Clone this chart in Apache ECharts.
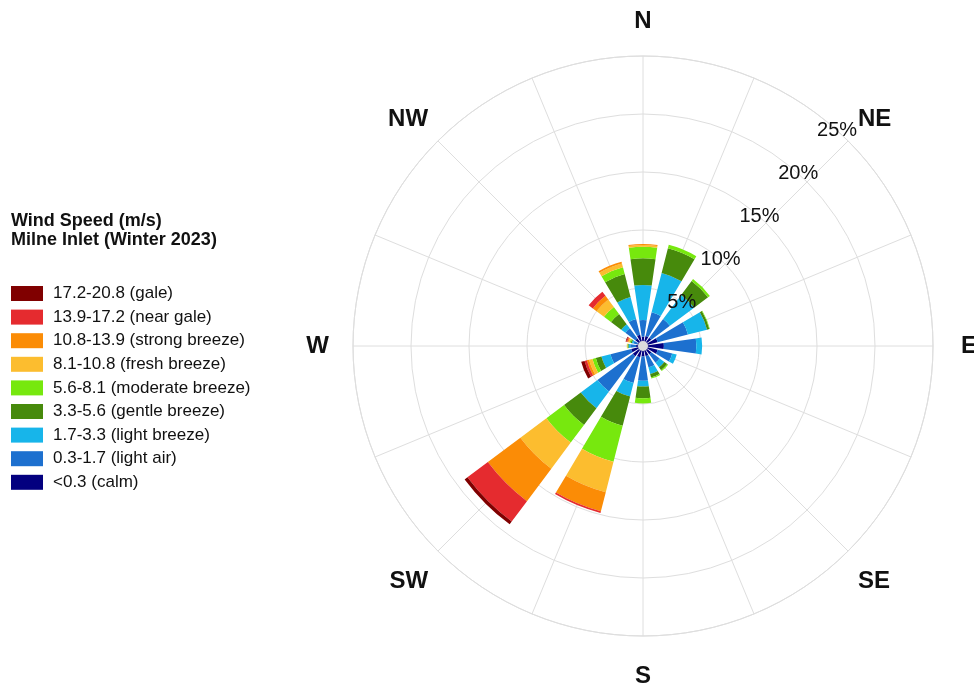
<!DOCTYPE html>
<html>
<head>
<meta charset="utf-8">
<title>Wind Rose - Milne Inlet (Winter 2023)</title>
<script src="https://cdn.jsdelivr.net/npm/echarts@6/dist/echarts.min.js"></script>
<style>
  html, body { margin: 0; padding: 0; background: #ffffff; }
  #chart { width: 974px; height: 686px; }
</style>
</head>
<body>
<div id="chart"></div>
<script>
// Direction sectors, clockwise from north
const directions = ['N', 'NNE', 'NE', 'ENE', 'E', 'ESE', 'SE', 'SSE', 'S', 'SSW', 'SW', 'WSW', 'W', 'WNW', 'NW', 'NNW'];

// Speed classes, innermost (calm) first
const speedBins = [
  '<0.3 (calm)',
  '0.3-1.7 (light air)',
  '1.7-3.3 (light breeze)',
  '3.3-5.6 (gentle breeze)',
  '5.6-8.1 (moderate breeze)',
  '8.1-10.8 (fresh breeze)',
  '10.8-13.9 (strong breeze)',
  '13.9-17.2 (near gale)',
  '17.2-20.8 (gale)'
];

// Frequency (% of hours) per direction for each speed class
const calm          = [0.80, 0.90, 0.90, 1.30, 1.80, 1.30, 0.90, 0.90, 0.90, 1.00, 1.10, 1.05, 0.60, 0.50, 0.80, 1.00];
const lightAir      = [1.44, 2.10, 2.00, 2.70, 2.80, 1.30, 0.90, 1.00, 2.10, 2.30, 3.80, 1.85, 0.50, 0.35, 1.10, 1.40];
const lightBreeze   = [3.02, 3.50, 2.60, 1.70, 0.50, 0.40, 0.50, 0.60, 0.50, 1.20, 1.80, 0.80, 0.15, 0.15, 0.45, 1.95];
const gentleBreeze  = [2.30, 2.20, 1.50, 0.20, 0.00, 0.00, 0.30, 0.30, 1.00, 2.60, 1.80, 0.50, 0.05, 0.10, 1.10, 2.05];
const moderateBreeze= [1.00, 0.30, 0.20, 0.05, 0.00, 0.00, 0.10, 0.10, 0.45, 3.20, 1.90, 0.30, 0.05, 0.10, 0.75, 0.60];
const freshBreeze   = [0.15, 0.00, 0.00, 0.00, 0.00, 0.00, 0.00, 0.00, 0.00, 2.70, 2.80, 0.30, 0.05, 0.10, 0.80, 0.35];
const strongBreeze  = [0.08, 0.00, 0.00, 0.00, 0.00, 0.00, 0.00, 0.00, 0.00, 1.70, 3.50, 0.20, 0.00, 0.10, 0.40, 0.15];
const nearGale      = [0.00, 0.00, 0.00, 0.00, 0.00, 0.00, 0.00, 0.00, 0.00, 0.15, 2.20, 0.20, 0.00, 0.10, 0.45, 0.00];
const gale          = [0.00, 0.00, 0.00, 0.00, 0.00, 0.00, 0.00, 0.00, 0.00, 0.00, 0.30, 0.30, 0.00, 0.05, 0.00, 0.00];

// Radial ticks (percent)
const ringTicks = [5, 10, 15, 20, 25];

const binValues = [calm, lightAir, lightBreeze, gentleBreeze, moderateBreeze, freshBreeze, strongBreeze, nearGale, gale];
const binColors = ['#03007f', '#1d70cf', '#17b5ea', '#478a0c', '#77e80e', '#fcbd2f', '#fb8c06', '#e52b2f', '#800000'];

const FONT = '"Liberation Sans", Arial, Helvetica, sans-serif';
const CX = 643, CY = 346, R = 290;
const GRID = '#dedede';

// Extra push outward for some compass labels
const labelPad = {
  N: [0, 0, 9, 0],
  S: [14, 0, 0, 0],
  E: [0, 0, 0, 14],
  W: [0, 10, 0, 0],
  SE: [8, 0, 0, 0],
  SW: [8, 0, 0, 0]
};
const angleData = directions.map(d => labelPad[d] ? { value: d, textStyle: { padding: labelPad[d] } } : d);

const chart = echarts.init(document.getElementById('chart'), null, { renderer: 'canvas' });

const series = speedBins.map((name, i) => ({
  type: 'bar',
  name: name,
  coordinateSystem: 'polar',
  polarIndex: 0,
  stack: 'speed',
  barWidth: '73%',
  data: binValues[i],
  itemStyle: { color: binColors[i] },
  emphasis: { disabled: true },
  z: 3
}));

const hiddenRadius = (idx) => ({
  polarIndex: idx,
  type: 'value',
  min: 0,
  max: ringTicks[ringTicks.length - 1],
  interval: ringTicks[0],
  axisLine: { show: false },
  axisTick: { show: false },
  axisLabel: { show: false },
  splitLine: { show: false }
});

chart.setOption({
  animation: false,
  backgroundColor: '#ffffff',
  textStyle: { fontFamily: FONT },
  title: {
    text: 'Wind Speed (m/s)\nMilne Inlet (Winter 2023)',
    left: 11,
    top: 212,
    padding: 0,
    textStyle: { fontFamily: FONT, fontSize: 18, fontWeight: 'bold', color: '#111', lineHeight: 19 }
  },
  legend: {
    orient: 'vertical',
    left: 11,
    top: 285,
    padding: 0,
    itemWidth: 32,
    itemHeight: 15,
    itemGap: 6.6,
    icon: 'rect',
    selectedMode: false,
    data: speedBins.slice().reverse(),
    textStyle: { fontFamily: FONT, fontSize: 17, color: '#111', lineHeight: 15, padding: [0, 0, 0, 5] }
  },
  polar: [
    { center: [CX, CY], radius: [0, R] },   // bars, spokes, compass labels
    { center: [CX, CY], radius: [0, R] },   // percentage rings
    { center: [CX, CY], radius: [0, R] }    // percentage labels
  ],
  angleAxis: [
    {
      polarIndex: 0,
      type: 'category',
      data: angleData,
      boundaryGap: false,
      startAngle: 90,
      clockwise: true,
      axisLine: { show: false },
      axisTick: { show: false, interval: 0 },
      splitLine: { show: true, interval: 0, lineStyle: { color: GRID, width: 1 } },
      axisLabel: {
        show: true,
        interval: 1,
        margin: 14,
        fontFamily: FONT,
        fontSize: 24,
        fontWeight: 'bold',
        color: '#111'
      },
      z: 1
    },
    {
      polarIndex: 1,
      type: 'value',
      startAngle: 90,
      min: 0,
      max: 360,
      axisLine: { show: true, lineStyle: { color: GRID, width: 1 } },
      axisTick: { show: false },
      axisLabel: { show: false },
      splitLine: { show: false },
      z: 1
    },
    {
      polarIndex: 2,
      type: 'value',
      startAngle: 48,
      min: 0,
      max: 360,
      show: false
    }
  ],
  radiusAxis: [
    hiddenRadius(0),
    Object.assign(hiddenRadius(1), {
      splitLine: { show: true, lineStyle: { color: GRID, width: 1 } },
      z: 1
    }),
    Object.assign(hiddenRadius(2), {
      axisLabel: {
        show: true,
        margin: 0,
        align: 'center',
        verticalAlign: 'middle',
        fontFamily: FONT,
        fontSize: 20,
        color: '#111',
        formatter: v => (ringTicks.indexOf(v) >= 0 ? v + '%' : '')
      },
      z: 10
    })
  ],
  graphic: [
    {
      type: 'circle',
      shape: { cx: CX, cy: CY, r: 5 },
      style: { fill: '#dcdcdc' },
      z: 50
    }
  ],
  series: series
});
</script>
</body>
</html>
